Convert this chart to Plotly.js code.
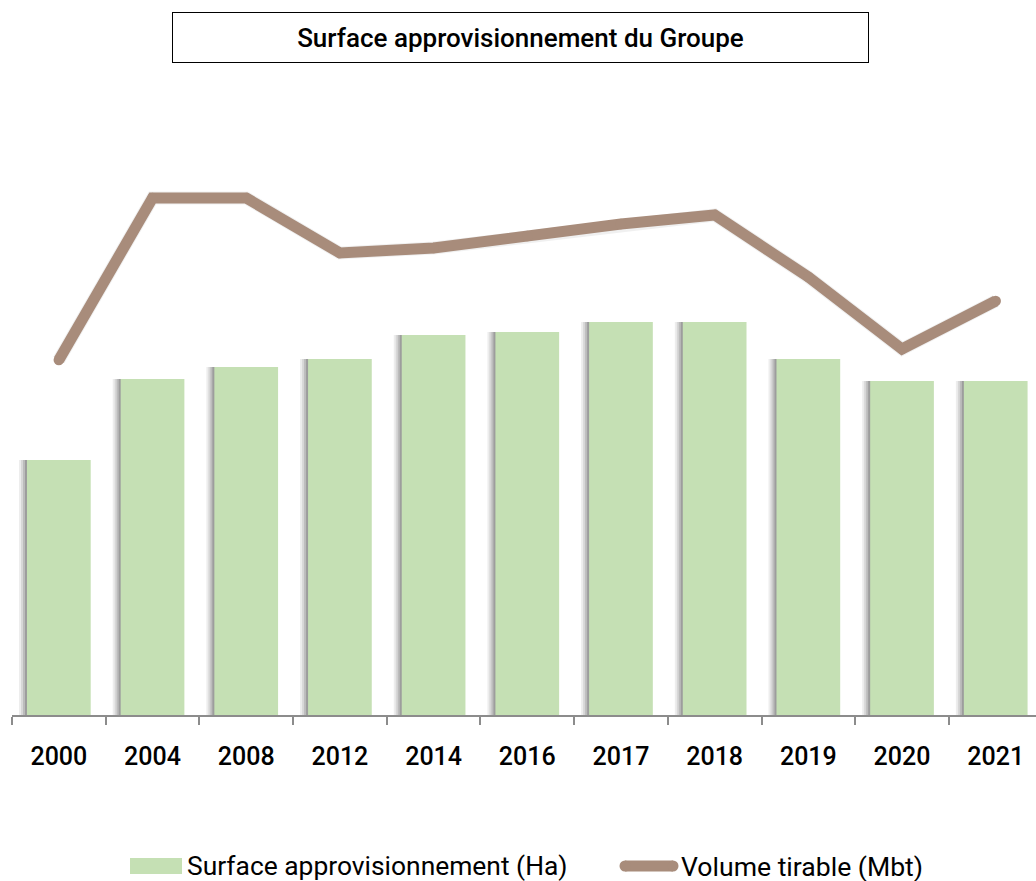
<!DOCTYPE html>
<html><head><meta charset="utf-8">
<script src="https://cdn.plot.ly/plotly-3.0.1.min.js"></script>
<style>body{margin:0;background:#fff}#c{width:1036px;height:881px}</style>
</head><body><div id="c"></div>
<script>
const years = ["2000","2004","2008","2012","2014","2016","2017","2018","2019","2020","2021"];
const surface = [255,336,348,356,380,383,393,393,356,334,334];
const volume = [3.55,5.17,5.17,4.62,4.67,4.79,4.91,5.00,4.38,3.66,4.14];
const titleText = "Surface approvisionnement du Groupe";
const surfaceName = "Surface approvisionnement (Ha)";
const volumeName = "Volume tirable (Mbt)";

const F = "Roboto, 'DejaVu Sans', sans-serif";
const BAR = "#c5e0b4", LINE = "#a88c7b";
const PXU = 1/93.7; // one pixel in category units
const shadowLayers = [[8,0.07],[6,0.09],[4,0.12],[2,0.16]];
const traces = [];
shadowLayers.forEach(([d,a]) => traces.push({type:"bar", x:years, y:surface, showlegend:false, hoverinfo:"skip",
   marker:{color:`rgba(0,0,0,${a})`}, width:0.68, offset:-0.34-d*PXU}));
traces.push(
  {type:"bar", x:years, y:surface, name:surfaceName, showlegend:false,
   marker:{color:BAR}, width:0.68, offset:-0.34},
  {type:"scatter", mode:"lines", x:years, y:volume, yaxis:"y2", showlegend:false, hoverinfo:"skip",
   line:{color:"rgba(0,0,0,0.06)", width:13}},
  {type:"scatter", mode:"lines+markers", x:years, y:volume, yaxis:"y2", name:volumeName, showlegend:false,
   line:{color:LINE, width:11}, marker:{color:LINE, size:10.5}}
);
// plot area: left 12, width 1024, top 100, bottom 715 (height 615)
const px = v => (v-12)/1024, py = v => (715-v)/615;
const layout = {
  width:1036, height:881,
  margin:{l:12, r:0, t:100, b:166, autoexpand:false},
  paper_bgcolor:"#fff", plot_bgcolor:"#fff",
  barmode:"overlay",
  font:{family:F, color:"#000"},
  xaxis:{type:"category", range:[-0.5,10.43], showline:true, linecolor:"#8c8c8c", linewidth:1.5,
    ticks:"outside", tickson:"boundaries", ticklen:8, tickcolor:"#8c8c8c", tickwidth:1.5,
    ticklabelstandoff:18,
    showgrid:false, tickfont:{family:F, size:25, weight:500, color:"#000"}},
  yaxis:{range:[0,615], visible:false, showgrid:false, zeroline:false},
  yaxis2:{range:[0,6.15], overlaying:"y", visible:false, showgrid:false, zeroline:false},
  showlegend:false,
  shapes:[
    {type:"rect", xref:"paper", yref:"paper", x0:px(130), x1:px(182), y0:py(858), y1:py(874),
     fillcolor:BAR, line:{width:0}},
    {type:"line", xref:"paper", yref:"paper", x0:px(625), x1:px(673), y0:py(866), y1:py(866),
     line:{color:LINE, width:11}},
    {type:"circle", xref:"paper", yref:"paper", x0:px(619.5), x1:px(630.5), y0:py(860.5), y1:py(871.5),
     fillcolor:LINE, line:{width:0}},
    {type:"circle", xref:"paper", yref:"paper", x0:px(667.5), x1:px(678.5), y0:py(860.5), y1:py(871.5),
     fillcolor:LINE, line:{width:0}}
  ],
  annotations:[
    {text:titleText, xref:"paper", yref:"paper", x:px(520.5), y:py(37.5), yanchor:"middle",
     showarrow:false, bordercolor:"#000", borderwidth:1, width:695, height:49, borderpad:0,
     font:{family:F, size:26, weight:500, color:"#000"}, bgcolor:"#fff"},
    {text:surfaceName, xref:"paper", yref:"paper", x:px(185), y:py(866), xanchor:"left", yanchor:"middle",
     showarrow:false, font:{family:F, size:26.4, color:"#000"}},
    {text:volumeName, xref:"paper", yref:"paper", x:px(679), y:py(866), xanchor:"left", yanchor:"middle",
     showarrow:false, font:{family:F, size:26.6, color:"#000"}}
  ]
};
Plotly.newPlot("c", traces, layout, {displayModeBar:false});
</script></body></html>
